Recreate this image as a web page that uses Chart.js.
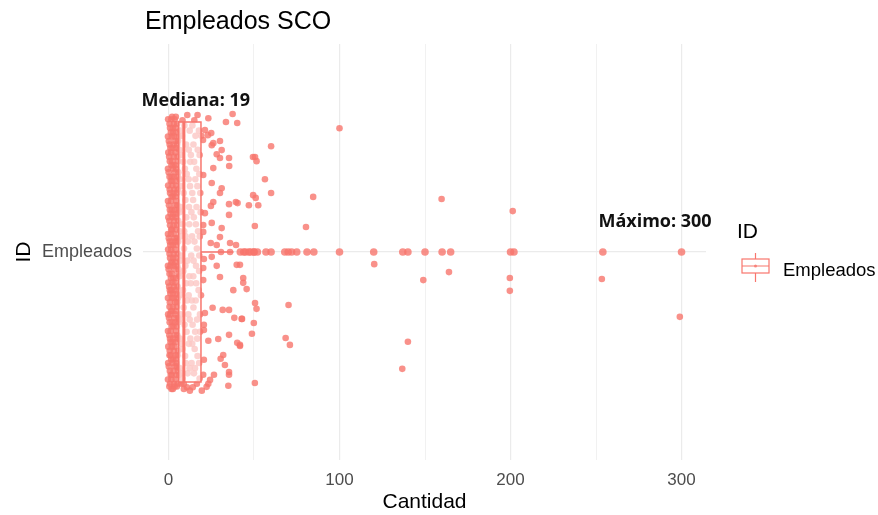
<!DOCTYPE html>
<html lang="es">
<head>
<meta charset="utf-8">
<title>Empleados SCO</title>
<script src="https://cdn.jsdelivr.net/npm/chart.js@4.4.1/dist/chart.umd.min.js"></script>
<style>
  html, body { margin: 0; padding: 0; background: #fff; }
  canvas { display: block; }
</style>
</head>
<body>
<canvas id="grafico" width="878" height="515"></canvas>
<script>
// Datos
const categoria = 'Empleados';
// bigote inferior, Q1, mediana, Q3, bigote superior
const cuartiles = [0, 6, 9, 19, 38];
const atipicos = [42, 44, 45, 47, 48, 50, 50, 52, 57, 60, 68, 70, 72, 75, 81, 85, 100, 120, 137, 140, 150, 160, 165, 200, 202, 254, 300];
const ticksX = [0, 50, 100, 150, 200, 250, 300];

// puntos con jitter: [cantidad, posición vertical]
const jitterIzquierda = [
  [2.1,1.39],[4.3,1.39],[0.6,1.37],[3.2,1.37],[5.1,1.37],[1.4,1.345],[2.7,1.345],[4.8,1.345],
  [0.2,1.32],[3.9,1.32],[5.6,1.32],[1.1,1.30],[2.4,1.30],[4.6,1.30],[0.4,1.275],[3.1,1.275],[5.3,1.275],
  [1.8,1.25],[2.9,1.25],[4.2,1.25],[0.1,1.23],[3.6,1.23],[5.8,1.23],[1.3,1.205],[2.2,1.205],[4.9,1.205],
  [0.7,1.18],[3.4,1.18],[5.5,1.18],[1.9,1.16],[2.6,1.16],[4.1,1.16],[0.3,1.135],[3.8,1.135],[5.2,1.135],
  [1.2,1.11],[2.8,1.11],[4.7,1.11],[0.5,1.09],[3.3,1.09],[5.7,1.09],[1.6,1.065],[2.1,1.065],[4.4,1.065],
  [0.2,1.04],[3.7,1.04],[5.0,1.04],[1.0,1.02],[2.5,1.02],[4.5,1.02],[0.6,0.995],[3.0,0.995],[5.4,0.995],
  [1.7,0.97],[2.3,0.97],[4.0,0.97],[0.1,0.95],[3.5,0.95],[5.9,0.95],[1.4,0.925],[2.8,0.925],[4.6,0.925],
  [0.4,0.90],[3.2,0.90],[5.3,0.90],[1.1,0.88],[2.6,0.88],[4.8,0.88],[0.8,0.855],[3.9,0.855],[5.1,0.855],
  [1.5,0.83],[2.2,0.83],[4.3,0.83],[0.3,0.81],[3.4,0.81],[5.6,0.81],[1.9,0.785],[2.9,0.785],[4.9,0.785],
  [0.5,0.76],[3.6,0.76],[5.2,0.76],[1.2,0.74],[2.4,0.74],[4.1,0.74],[0.7,0.715],[3.1,0.715],[5.7,0.715],
  [1.6,0.69],[2.7,0.69],[4.5,0.69],[0.2,0.67],[3.8,0.67],[5.0,0.67],[1.3,0.645],[2.0,0.645],[4.7,0.645],
  [6.2,0.645],[0.9,0.62],[3.3,0.62],[5.4,0.62],[7.5,0.62],[1.8,0.605],[2.6,0.605],[9.0,0.605],
  [-0.2,1.383],[1.7,1.383],[3.6,1.383],[0.9,1.358],[2.5,1.358],[4.1,1.358],[-0.3,1.333],[2.0,1.333],
  [3.4,1.333],[5.9,1.333],[0.7,1.31],[3.0,1.31],[5.1,1.31],[-0.1,1.287],[1.6,1.287],[4.0,1.287],
  [0.8,1.262],[2.3,1.262],[5.6,1.262],[-0.3,1.24],[2.6,1.24],[4.5,1.24],[0.6,1.217],[1.9,1.217],
  [3.2,1.217],[5.5,1.217],[-0.2,1.192],[2.3,1.192],[4.4,1.192],[0.9,1.17],[3.0,1.17],[5.0,1.17],
  [-0.3,1.147],[1.5,1.147],[4.6,1.147],[0.8,1.122],[2.0,1.122],[3.6,1.122],[5.9,1.122],[-0.1,1.10],
  [2.3,1.10],[4.0,1.10],[0.9,1.077],[3.0,1.077],[5.1,1.077],[-0.3,1.052],[1.4,1.052],[3.4,1.052],
  [0.7,1.03],[2.1,1.03],[4.2,1.03],[5.7,1.03],[-0.2,1.007],[1.6,1.007],[3.8,1.007],[0.9,0.983],
  [2.7,0.983],[4.6,0.983],[-0.3,0.96],[1.2,0.96],[3.3,0.96],[5.2,0.96],[0.6,0.937],[2.0,0.937],
  [5.8,0.937],[-0.1,0.912],[2.3,0.912],[3.7,0.912],[0.8,0.89],[1.8,0.89],[4.2,0.89],[-0.3,0.867],
  [2.1,0.867],[3.2,0.867],[5.6,0.867],[0.6,0.842],[2.6,0.842],[4.9,0.842],[-0.2,0.82],[1.0,0.82],
  [4.1,0.82],[0.7,0.797],[2.3,0.797],[3.9,0.797],[5.9,0.797],[-0.3,0.772],[1.3,0.772],[4.4,0.772],
  [0.9,0.75],[2.8,0.75],[5.5,0.75],[-0.1,0.727],[2.0,0.727],[3.6,0.727],[0.6,0.702],[1.3,0.702],
  [4.0,0.702],[5.3,0.702],[-0.2,0.68],[2.3,0.68],[4.8,0.68],[0.8,0.657],[3.0,0.657],[5.6,0.657],
  [-0.3,0.632],[1.7,0.632],[4.2,0.632],[0.5,0.612],[3.6,0.612],[4.9,0.612]
];
const jitterCaja = [
  [8.2,1.38],[15.1,1.38],[6.9,1.35],[12.4,1.35],[17.8,1.35],[10.3,1.31],[14.6,1.31],[7.4,1.28],[13.1,1.28],
  [18.2,1.28],[9.6,1.24],[16.3,1.24],[6.6,1.21],[11.8,1.21],[15.7,1.21],[8.9,1.17],[13.9,1.17],[18.6,1.17],
  [7.1,1.13],[12.0,1.13],[16.4,1.13],[10.5,1.10],[14.8,1.10],[6.8,1.06],[9.2,1.06],[17.3,1.06],[11.4,1.03],
  [15.2,1.03],[7.7,0.99],[13.3,0.99],[18.0,0.99],[9.9,0.96],[16.1,0.96],[6.4,0.93],[12.2,0.93],[14.5,0.93],
  [8.5,0.89],[17.6,0.89],[10.8,0.86],[13.7,0.86],[15.9,0.86],[7.2,0.82],[11.6,0.82],[18.4,0.82],[9.4,0.79],
  [14.1,0.79],[6.7,0.75],[12.8,0.75],[16.8,0.75],[8.1,0.72],[15.3,0.72],[10.1,0.68],[13.5,0.68],[17.9,0.68],
  [7.5,0.65],[11.2,0.65],[14.9,0.65],[9.0,0.62],[16.6,0.62],[12.5,0.60],[19.5,0.60],
  [11.0,1.395],[17.0,1.395],[9.3,1.365],[14.0,1.365],[7.9,1.335],[15.8,1.335],[19.2,1.335],[6.3,1.295],
  [11.9,1.295],[17.1,1.295],[8.6,1.26],[12.7,1.26],[15.0,1.26],[10.7,1.225],[18.0,1.225],[7.3,1.19],
  [12.6,1.19],[16.9,1.19],[9.9,1.15],[14.4,1.15],[6.5,1.115],[13.4,1.115],[18.8,1.115],[8.3,1.08],
  [12.1,1.08],[16.0,1.08],[7.0,1.045],[10.0,1.045],[13.8,1.045],[18.3,1.045],[9.1,1.01],[16.6,1.01],
  [6.9,0.975],[11.1,0.975],[14.7,0.975],[8.7,0.945],[17.9,0.945],[10.4,0.91],[13.0,0.91],[16.2,0.91],
  [6.6,0.875],[11.8,0.875],[19.0,0.875],[8.9,0.84],[14.6,0.84],[6.2,0.805],[12.4,0.805],[16.7,0.805],
  [10.6,0.77],[15.6,0.77],[18.5,0.77],[7.6,0.735],[11.9,0.735],[13.9,0.735],[9.7,0.70],[17.0,0.70],
  [6.5,0.665],[12.3,0.665],[15.5,0.665],[8.3,0.635],[18.2,0.635],[10.8,0.61],[14.2,0.61]
];
const jitterDerecha = [
  [100,1.357],[60,1.305],[49.4,1.274],[50.6,1.274],[51.5,1.262],[56.4,1.210],[60,1.170],[49.5,1.164],
  [51,1.156],[84.6,1.159],[47,1.135],[50.5,1.075],[80.4,1.072],[120.3,0.965],[43.7,0.925],[43.7,0.911],
  [149,0.919],[41.8,0.963],[159.7,1.153],[201.3,1.118],[164,0.942],[199.6,0.925],[199.6,0.888],
  [253.4,0.922],[299,0.813],[140,0.741],[50.6,0.853],[51.5,0.836],[70.2,0.847],[43,0.807],[49.9,0.795],
  [48.8,0.764],[68.5,0.752],[71,0.732],[41.8,0.732],[136.7,0.663],[50.5,0.622],
  [23.3,1.386],[33.6,1.375],[37.5,1.398],[40.2,1.372],[21.3,1.352],[23,1.337],[25,1.343],[20.2,1.323],
  [26.2,1.314],[30.1,1.320],[25.3,1.308],[31.1,1.294],[28.2,1.282],[30.1,1.271],[35.4,1.271],[35.5,1.248],
  [26.2,1.242],[20.3,1.222],[25.3,1.199],[31.1,1.184],[30.1,1.170],[26.2,1.144],[39.4,1.144],[24.8,1.133],
  [35.4,1.138],[40.4,1.141],[52.5,1.135],[35.4,1.107],[21.3,1.112],[25.3,1.084],[20.3,1.078],[20.3,1.058],
  [31.1,1.069],[30.1,1.043],[24.7,1.026],[28.2,1.020],[36,1.026],[39.5,1.020],[30.7,1.0],[36,1.0],
  [20.7,0.980],[25.3,0.986],[28.2,0.960],[30.1,0.928],[39.9,0.963],[37.9,0.890],[45.7,0.893],[20.3,0.954],
  [20.3,0.919],[25.8,0.839],[31.7,0.833],[35.4,0.833],[38.5,0.810],[42.8,0.807],[21.3,0.824],[20.7,0.790],
  [20.7,0.775],[23.3,0.744],[29.1,0.749],[35.4,0.761],[40.2,0.738],[41.8,0.729],[20.7,0.689],[32,0.703],
  [30.5,0.692],[33,0.674],[35.4,0.654],[35.4,0.646],[26.6,0.646],[24.3,0.631],[23.3,0.620],[22.3,0.611],
  [35,0.614],[20.3,0.646]
];

// textos anotados
const etiquetas = ['Mediana: 19', 'Máximo: 300'];
const etiquetaX = [16, 284.5];
const etiquetaY = [1.435, 1.087];

const ROJO = '#F8766D';
const PUNTO = 'rgba(248,118,109,0.8)';
Chart.defaults.font.family = "'Liberation Sans', Arial, sans-serif";

const puntos = jitterIzquierda.concat(jitterCaja, jitterDerecha).map(p => ({x: p[0], y: p[1]}));

// caja, bigotes, título, anotaciones y leyenda
const cajaPlugin = {
  id: 'caja',
  afterDatasetDraw(chart, args) {
    if (args.index !== 1) return;
    const ctx = chart.ctx, x = chart.scales.x, y = chart.scales.y;
    const yc = y.getPixelForValue(1);
    const yt = y.getPixelForValue(1.375), yb = y.getPixelForValue(0.625);
    const x1 = x.getPixelForValue(cuartiles[1]), x3 = x.getPixelForValue(cuartiles[3]);
    const xm = x.getPixelForValue(cuartiles[2]);
    ctx.save();
    ctx.strokeStyle = ROJO;
    ctx.lineWidth = 1.5;
    ctx.beginPath();
    ctx.moveTo(x.getPixelForValue(cuartiles[0]), yc);
    ctx.lineTo(x1, yc);
    ctx.moveTo(x3, yc);
    ctx.lineTo(x.getPixelForValue(cuartiles[4]), yc);
    ctx.stroke();
    ctx.fillStyle = 'rgba(255,255,255,0.6)';
    ctx.fillRect(x1, yt, x3 - x1, yb - yt);
    ctx.strokeRect(x1, yt, x3 - x1, yb - yt);
    ctx.lineWidth = 3;
    ctx.beginPath();
    ctx.moveTo(xm, yt);
    ctx.lineTo(xm, yb);
    ctx.stroke();
    ctx.restore();
  },
  afterDraw(chart) {
    const ctx = chart.ctx, x = chart.scales.x, y = chart.scales.y;
    ctx.save();
    // título
    ctx.fillStyle = '#000';
    ctx.textBaseline = 'middle';
    ctx.textAlign = 'left';
    ctx.font = "25px 'Liberation Sans', Arial, sans-serif";
    ctx.fillText('Empleados SCO', 145, 22);
    // anotaciones
    ctx.font = "bold 18px 'Open Sans', sans-serif";
    ctx.textAlign = 'center';
    ctx.fillStyle = '#111';
    etiquetas.forEach((t, i) => {
      ctx.fillText(t, x.getPixelForValue(etiquetaX[i]), y.getPixelForValue(etiquetaY[i]));
    });
    // leyenda
    ctx.textAlign = 'left';
    ctx.fillStyle = '#000';
    ctx.font = "21px 'Liberation Sans', Arial, sans-serif";
    ctx.fillText('ID', 737, 232);
    ctx.strokeStyle = ROJO;
    ctx.lineWidth = 1.2;
    ctx.strokeRect(742, 259, 27, 14);
    ctx.beginPath();
    ctx.moveTo(742, 266); ctx.lineTo(769, 266);
    ctx.moveTo(755.5, 253); ctx.lineTo(755.5, 259);
    ctx.moveTo(755.5, 273); ctx.lineTo(755.5, 282);
    ctx.stroke();
    ctx.fillStyle = PUNTO;
    ctx.beginPath();
    ctx.arc(755.5, 266, 1.5, 0, Math.PI * 2);
    ctx.fill();
    ctx.fillStyle = '#000';
    ctx.font = "18.5px 'Liberation Sans', Arial, sans-serif";
    ctx.fillText(categoria, 783, 271);
    ctx.restore();
  }
};

new Chart(document.getElementById('grafico').getContext('2d'), {
  type: 'scatter',
  data: {
    datasets: [
      {
        label: 'atípicos',
        data: atipicos.map(v => ({x: v, y: 1})),
        pointRadius: 3.8,
        pointBorderWidth: 0,
        backgroundColor: PUNTO
      },
      {
        label: categoria,
        data: puntos,
        pointRadius: 3.3,
        pointBorderWidth: 0,
        backgroundColor: PUNTO
      }
    ]
  },
  options: {
    responsive: false,
    animation: false,
    layout: { padding: { top: 44, right: 172, bottom: 0, left: 0 } },
    plugins: {
      legend: { display: false },
      tooltip: { enabled: false }
    },
    scales: {
      x: {
        type: 'linear',
        min: -14.9,
        max: 314.3,
        afterBuildTicks: s => { s.ticks = ticksX.map(v => ({value: v})); },
        afterFit: s => { s.height = 55; },
        border: { display: false },
        grid: {
          color: '#EBEBEB',
          lineWidth: c => (c.tick && c.tick.value % 100 === 0 ? 1.2 : 0.7),
          drawTicks: false
        },
        ticks: {
          autoSkip: false,
          maxRotation: 0,
          padding: 10,
          color: '#4D4D4D',
          font: { size: 17 },
          callback: v => (v % 100 === 0 ? v : '')
        },
        title: {
          display: true,
          text: 'Cantidad',
          color: '#000',
          font: { size: 21, lineHeight: 1.2 },
          padding: { top: 0, bottom: 0 }
        }
      },
      y: {
        type: 'linear',
        min: 0.4,
        max: 1.6,
        afterBuildTicks: s => { s.ticks = [{value: 1}]; },
        afterFit: s => { s.width = 143; },
        border: { display: false },
        grid: { color: '#EBEBEB', lineWidth: 1.2, drawTicks: false },
        ticks: {
          padding: 11,
          color: '#4D4D4D',
          font: { size: 18 },
          callback: v => (v === 1 ? categoria : '')
        },
        title: {
          display: true,
          text: 'ID',
          color: '#000',
          font: { size: 21, lineHeight: 1.2 },
          padding: { top: 12, bottom: 0 }
        }
      }
    }
  },
  plugins: [cajaPlugin]
});
</script>
</body>
</html>
